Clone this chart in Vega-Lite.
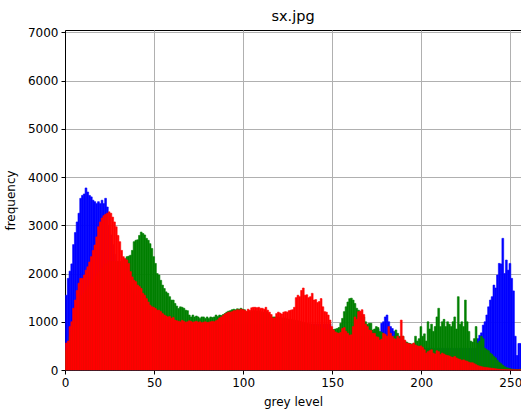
{
"$schema": "https://vega.github.io/schema/vega-lite/v6.json",
"autosize": "none",
"width": 456,
"height": 340,
"padding": {"left": 65, "top": 30, "right": 0, "bottom": 40},
"background": "white",
"title": {"text": "sx.jpg", "font": "DejaVu Sans", "fontSize": 14.5, "fontWeight": "normal", "color": "black", "offset": 2},
"config": {
  "view": {"stroke": "black", "strokeWidth": 1},
  "axis": {"domainColor": "black", "domainWidth": 1, "tickColor": "black", "tickWidth": 1, "tickSize": 4, "labelFont": "DejaVu Sans", "labelFontSize": 12, "labelColor": "black", "labelPadding": 3, "labelFlush": false, "labelOverlap": false, "titleFont": "DejaVu Sans", "titleFontSize": 12, "titleFontWeight": "normal", "titleColor": "black", "grid": true, "gridColor": "#b0b0b0", "gridWidth": 1, "gridOpacity": 1, "zindex": 1}
},
"datasets": {
"blue": [
{"g":0,"n":1550},{"g":1,"n":1900},{"g":2,"n":2050},{"g":3,"n":2200},{"g":4,"n":2600},{"g":5,"n":2850},{"g":6,"n":3070},{"g":7,"n":3250},{"g":8,"n":3560},{"g":9,"n":3620},
{"g":10,"n":3650},{"g":11,"n":3775},{"g":12,"n":3690},{"g":13,"n":3620},{"g":14,"n":3590},{"g":15,"n":3520},{"g":16,"n":3490},{"g":17,"n":3450},{"g":18,"n":3490},{"g":19,"n":3450},
{"g":20,"n":3520},{"g":21,"n":3450},{"g":22,"n":3560},{"g":23,"n":3380},{"g":24,"n":3000},{"g":25,"n":2800},{"g":26,"n":2600},{"g":27,"n":2400},{"g":28,"n":2200},{"g":29,"n":2100},
{"g":30,"n":2000},{"g":31,"n":1950},{"g":32,"n":1900},{"g":33,"n":1850},{"g":34,"n":1800},{"g":35,"n":1750},{"g":36,"n":1700},{"g":37,"n":1650},{"g":38,"n":1600},{"g":39,"n":1550},
{"g":40,"n":1500},{"g":41,"n":1450},{"g":42,"n":1400},{"g":43,"n":1350},{"g":44,"n":1300},{"g":45,"n":1250},{"g":46,"n":1200},{"g":47,"n":1180},{"g":48,"n":1160},{"g":49,"n":1140},
{"g":50,"n":1120},{"g":51,"n":1100},{"g":52,"n":1080},{"g":53,"n":1060},{"g":54,"n":1040},{"g":55,"n":1020},{"g":56,"n":1000},{"g":57,"n":990},{"g":58,"n":980},{"g":59,"n":970},
{"g":60,"n":960},{"g":61,"n":950},{"g":62,"n":950},{"g":63,"n":950},{"g":64,"n":950},{"g":65,"n":950},{"g":66,"n":950},{"g":67,"n":950},{"g":68,"n":950},{"g":69,"n":950},
{"g":70,"n":950},{"g":71,"n":950},{"g":72,"n":950},{"g":73,"n":950},{"g":74,"n":950},{"g":75,"n":950},{"g":76,"n":950},{"g":77,"n":950},{"g":78,"n":950},{"g":79,"n":950},
{"g":80,"n":950},{"g":81,"n":950},{"g":82,"n":950},{"g":83,"n":950},{"g":84,"n":950},{"g":85,"n":950},{"g":86,"n":950},{"g":87,"n":950},{"g":88,"n":950},{"g":89,"n":950},
{"g":90,"n":950},{"g":91,"n":950},{"g":92,"n":950},{"g":93,"n":950},{"g":94,"n":950},{"g":95,"n":950},{"g":96,"n":950},{"g":97,"n":950},{"g":98,"n":950},{"g":99,"n":950},
{"g":100,"n":950},{"g":101,"n":950},{"g":102,"n":950},{"g":103,"n":950},{"g":104,"n":950},{"g":105,"n":950},{"g":106,"n":950},{"g":107,"n":950},{"g":108,"n":950},{"g":109,"n":950},
{"g":110,"n":950},{"g":111,"n":950},{"g":112,"n":950},{"g":113,"n":950},{"g":114,"n":950},{"g":115,"n":950},{"g":116,"n":950},{"g":117,"n":950},{"g":118,"n":950},{"g":119,"n":950},
{"g":120,"n":950},{"g":121,"n":950},{"g":122,"n":950},{"g":123,"n":950},{"g":124,"n":950},{"g":125,"n":950},{"g":126,"n":950},{"g":127,"n":950},{"g":128,"n":950},{"g":129,"n":950},
{"g":130,"n":950},{"g":131,"n":950},{"g":132,"n":950},{"g":133,"n":950},{"g":134,"n":950},{"g":135,"n":950},{"g":136,"n":950},{"g":137,"n":950},{"g":138,"n":950},{"g":139,"n":950},
{"g":140,"n":950},{"g":141,"n":950},{"g":142,"n":950},{"g":143,"n":950},{"g":144,"n":950},{"g":145,"n":950},{"g":146,"n":950},{"g":147,"n":950},{"g":148,"n":950},{"g":149,"n":700},
{"g":150,"n":700},{"g":151,"n":700},{"g":152,"n":700},{"g":153,"n":700},{"g":154,"n":700},{"g":155,"n":700},{"g":156,"n":700},{"g":157,"n":700},{"g":158,"n":700},{"g":159,"n":700},
{"g":160,"n":700},{"g":161,"n":700},{"g":162,"n":700},{"g":163,"n":700},{"g":164,"n":700},{"g":165,"n":700},{"g":166,"n":700},{"g":167,"n":700},{"g":168,"n":700},{"g":169,"n":700},
{"g":170,"n":700},{"g":171,"n":750},{"g":172,"n":780},{"g":173,"n":800},{"g":174,"n":850},{"g":175,"n":850},{"g":176,"n":780},{"g":177,"n":970},{"g":178,"n":1000},{"g":179,"n":1100},
{"g":180,"n":1140},{"g":181,"n":1000},{"g":182,"n":900},{"g":183,"n":860},{"g":184,"n":800},{"g":185,"n":760},{"g":186,"n":700},{"g":187,"n":650},{"g":188,"n":600},{"g":189,"n":580},
{"g":190,"n":550},{"g":191,"n":500},{"g":192,"n":500},{"g":193,"n":500},{"g":194,"n":500},{"g":195,"n":500},{"g":196,"n":500},{"g":197,"n":500},{"g":198,"n":480},{"g":199,"n":450},
{"g":200,"n":450},{"g":201,"n":450},{"g":202,"n":450},{"g":203,"n":450},{"g":204,"n":450},{"g":205,"n":450},{"g":206,"n":450},{"g":207,"n":450},{"g":208,"n":450},{"g":209,"n":450},
{"g":210,"n":450},{"g":211,"n":450},{"g":212,"n":450},{"g":213,"n":450},{"g":214,"n":450},{"g":215,"n":450},{"g":216,"n":450},{"g":217,"n":450},{"g":218,"n":450},{"g":219,"n":450},
{"g":220,"n":450},{"g":221,"n":450},{"g":222,"n":450},{"g":223,"n":450},{"g":224,"n":450},{"g":225,"n":450},{"g":226,"n":450},{"g":227,"n":450},{"g":228,"n":450},{"g":229,"n":450},
{"g":230,"n":450},{"g":231,"n":650},{"g":232,"n":720},{"g":233,"n":770},{"g":234,"n":930},{"g":235,"n":1000},{"g":236,"n":1140},{"g":237,"n":1310},{"g":238,"n":1450},{"g":239,"n":1520},
{"g":240,"n":1760},{"g":241,"n":1700},{"g":242,"n":1970},{"g":243,"n":2210},{"g":244,"n":2200},{"g":245,"n":2730},{"g":246,"n":2000},{"g":247,"n":2280},{"g":248,"n":2070},{"g":249,"n":2210},
{"g":250,"n":1900},{"g":251,"n":1640},{"g":252,"n":700},{"g":253,"n":300},{"g":254,"n":550},{"g":255,"n":550}
],
"green": [
{"g":0,"n":400},{"g":1,"n":450},{"g":2,"n":700},{"g":3,"n":800},{"g":4,"n":1000},{"g":5,"n":1150},{"g":6,"n":1300},{"g":7,"n":1400},{"g":8,"n":1500},{"g":9,"n":1550},
{"g":10,"n":1600},{"g":11,"n":1650},{"g":12,"n":1700},{"g":13,"n":1750},{"g":14,"n":1800},{"g":15,"n":1850},{"g":16,"n":1900},{"g":17,"n":1950},{"g":18,"n":2000},{"g":19,"n":2050},
{"g":20,"n":2100},{"g":21,"n":2150},{"g":22,"n":2200},{"g":23,"n":2200},{"g":24,"n":2250},{"g":25,"n":2250},{"g":26,"n":2250},{"g":27,"n":2250},{"g":28,"n":2250},{"g":29,"n":2250},
{"g":30,"n":2250},{"g":31,"n":2260},{"g":32,"n":2280},{"g":33,"n":2300},{"g":34,"n":2350},{"g":35,"n":2360},{"g":36,"n":2380},{"g":37,"n":2480},{"g":38,"n":2660},{"g":39,"n":2690},
{"g":40,"n":2700},{"g":41,"n":2790},{"g":42,"n":2860},{"g":43,"n":2830},{"g":44,"n":2800},{"g":45,"n":2730},{"g":46,"n":2690},{"g":47,"n":2620},{"g":48,"n":2520},{"g":49,"n":2350},
{"g":50,"n":2210},{"g":51,"n":2000},{"g":52,"n":1970},{"g":53,"n":1860},{"g":54,"n":1760},{"g":55,"n":1690},{"g":56,"n":1620},{"g":57,"n":1590},{"g":58,"n":1520},{"g":59,"n":1450},
{"g":60,"n":1450},{"g":61,"n":1380},{"g":62,"n":1325},{"g":63,"n":1275},{"g":64,"n":1310},{"g":65,"n":1300},{"g":66,"n":1280},{"g":67,"n":1240},{"g":68,"n":1230},{"g":69,"n":1140},
{"g":70,"n":1100},{"g":71,"n":1140},{"g":72,"n":1100},{"g":73,"n":1120},{"g":74,"n":1100},{"g":75,"n":1070},{"g":76,"n":1100},{"g":77,"n":1100},{"g":78,"n":1070},{"g":79,"n":1100},
{"g":80,"n":1070},{"g":81,"n":1100},{"g":82,"n":1090},{"g":83,"n":1100},{"g":84,"n":1140},{"g":85,"n":1110},{"g":86,"n":1140},{"g":87,"n":1130},{"g":88,"n":1150},{"g":89,"n":1170},
{"g":90,"n":1200},{"g":91,"n":1220},{"g":92,"n":1230},{"g":93,"n":1250},{"g":94,"n":1260},{"g":95,"n":1250},{"g":96,"n":1270},{"g":97,"n":1260},{"g":98,"n":1280},{"g":99,"n":1260},
{"g":100,"n":1250},{"g":101,"n":1200},{"g":102,"n":1210},{"g":103,"n":1200},{"g":104,"n":1220},{"g":105,"n":1230},{"g":106,"n":1230},{"g":107,"n":1220},{"g":108,"n":1230},{"g":109,"n":1210},
{"g":110,"n":1200},{"g":111,"n":1200},{"g":112,"n":1210},{"g":113,"n":1180},{"g":114,"n":1150},{"g":115,"n":1100},{"g":116,"n":1100},{"g":117,"n":1100},{"g":118,"n":1100},{"g":119,"n":1100},
{"g":120,"n":1090},{"g":121,"n":1080},{"g":122,"n":1080},{"g":123,"n":1070},{"g":124,"n":1060},{"g":125,"n":1050},{"g":126,"n":1050},{"g":127,"n":1040},{"g":128,"n":1030},{"g":129,"n":1030},
{"g":130,"n":1020},{"g":131,"n":1010},{"g":132,"n":1000},{"g":133,"n":990},{"g":134,"n":980},{"g":135,"n":970},{"g":136,"n":960},{"g":137,"n":950},{"g":138,"n":940},{"g":139,"n":930},
{"g":140,"n":920},{"g":141,"n":910},{"g":142,"n":900},{"g":143,"n":880},{"g":144,"n":860},{"g":145,"n":850},{"g":146,"n":840},{"g":147,"n":830},{"g":148,"n":820},{"g":149,"n":850},
{"g":150,"n":840},{"g":151,"n":850},{"g":152,"n":860},{"g":153,"n":880},{"g":154,"n":970},{"g":155,"n":1070},{"g":156,"n":1210},{"g":157,"n":1310},{"g":158,"n":1410},{"g":159,"n":1480},
{"g":160,"n":1490},{"g":161,"n":1450},{"g":162,"n":1380},{"g":163,"n":1280},{"g":164,"n":1240},{"g":165,"n":1200},{"g":166,"n":1150},{"g":167,"n":1100},{"g":168,"n":1000},{"g":169,"n":950},
{"g":170,"n":970},{"g":171,"n":970},{"g":172,"n":830},{"g":173,"n":850},{"g":174,"n":900},{"g":175,"n":880},{"g":176,"n":800},{"g":177,"n":780},{"g":178,"n":750},{"g":179,"n":720},
{"g":180,"n":700},{"g":181,"n":700},{"g":182,"n":650},{"g":183,"n":680},{"g":184,"n":700},{"g":185,"n":830},{"g":186,"n":760},{"g":187,"n":700},{"g":188,"n":690},{"g":189,"n":700},
{"g":190,"n":600},{"g":191,"n":580},{"g":192,"n":560},{"g":193,"n":550},{"g":194,"n":540},{"g":195,"n":550},{"g":196,"n":700},{"g":197,"n":600},{"g":198,"n":650},{"g":199,"n":900},
{"g":200,"n":700},{"g":201,"n":750},{"g":202,"n":600},{"g":203,"n":1000},{"g":204,"n":850},{"g":205,"n":950},{"g":206,"n":800},{"g":207,"n":900},{"g":208,"n":1100},{"g":209,"n":1280},
{"g":210,"n":900},{"g":211,"n":1000},{"g":212,"n":1050},{"g":213,"n":900},{"g":214,"n":1000},{"g":215,"n":950},{"g":216,"n":900},{"g":217,"n":1000},{"g":218,"n":1100},{"g":219,"n":850},
{"g":220,"n":1520},{"g":221,"n":950},{"g":222,"n":1000},{"g":223,"n":900},{"g":224,"n":1450},{"g":225,"n":1000},{"g":226,"n":800},{"g":227,"n":600},{"g":228,"n":580},{"g":229,"n":650},
{"g":230,"n":900},{"g":231,"n":560},{"g":232,"n":600},{"g":233,"n":700},{"g":234,"n":650},{"g":235,"n":450},{"g":236,"n":420},{"g":237,"n":400},{"g":238,"n":350},{"g":239,"n":320},
{"g":240,"n":280},{"g":241,"n":250},{"g":242,"n":200},{"g":243,"n":160},{"g":244,"n":130},{"g":245,"n":100},{"g":246,"n":70},{"g":247,"n":50},{"g":248,"n":40},{"g":249,"n":30},
{"g":250,"n":20},{"g":251,"n":15},{"g":252,"n":10},{"g":253,"n":8},{"g":254,"n":5},{"g":255,"n":20}
],
"red": [
{"g":0,"n":560},{"g":1,"n":600},{"g":2,"n":900},{"g":3,"n":1000},{"g":4,"n":1280},{"g":5,"n":1450},{"g":6,"n":1650},{"g":7,"n":1800},{"g":8,"n":1900},{"g":9,"n":1900},
{"g":10,"n":1970},{"g":11,"n":2070},{"g":12,"n":2140},{"g":13,"n":2240},{"g":14,"n":2350},{"g":15,"n":2480},{"g":16,"n":2590},{"g":17,"n":2760},{"g":18,"n":2970},{"g":19,"n":3070},
{"g":20,"n":3150},{"g":21,"n":3200},{"g":22,"n":3230},{"g":23,"n":3250},{"g":24,"n":3280},{"g":25,"n":3250},{"g":26,"n":3170},{"g":27,"n":3070},{"g":28,"n":2970},{"g":29,"n":2790},
{"g":30,"n":2660},{"g":31,"n":2480},{"g":32,"n":2350},{"g":33,"n":2310},{"g":34,"n":2280},{"g":35,"n":2210},{"g":36,"n":2040},{"g":37,"n":1930},{"g":38,"n":1860},{"g":39,"n":1830},
{"g":40,"n":1760},{"g":41,"n":1730},{"g":42,"n":1690},{"g":43,"n":1590},{"g":44,"n":1550},{"g":45,"n":1480},{"g":46,"n":1410},{"g":47,"n":1345},{"g":48,"n":1310},{"g":49,"n":1300},
{"g":50,"n":1275},{"g":51,"n":1240},{"g":52,"n":1240},{"g":53,"n":1210},{"g":54,"n":1170},{"g":55,"n":1140},{"g":56,"n":1120},{"g":57,"n":1100},{"g":58,"n":1110},{"g":59,"n":1070},
{"g":60,"n":1090},{"g":61,"n":1035},{"g":62,"n":1020},{"g":63,"n":1010},{"g":64,"n":1000},{"g":65,"n":1030},{"g":66,"n":1010},{"g":67,"n":990},{"g":68,"n":1000},{"g":69,"n":1020},
{"g":70,"n":1005},{"g":71,"n":990},{"g":72,"n":1000},{"g":73,"n":1010},{"g":74,"n":990},{"g":75,"n":1000},{"g":76,"n":980},{"g":77,"n":990},{"g":78,"n":1000},{"g":79,"n":985},
{"g":80,"n":990},{"g":81,"n":1000},{"g":82,"n":1010},{"g":83,"n":1000},{"g":84,"n":1020},{"g":85,"n":1040},{"g":86,"n":1080},{"g":87,"n":1100},{"g":88,"n":1130},{"g":89,"n":1160},
{"g":90,"n":1180},{"g":91,"n":1200},{"g":92,"n":1200},{"g":93,"n":1210},{"g":94,"n":1230},{"g":95,"n":1230},{"g":96,"n":1250},{"g":97,"n":1240},{"g":98,"n":1260},{"g":99,"n":1250},
{"g":100,"n":1240},{"g":101,"n":1220},{"g":102,"n":1260},{"g":103,"n":1240},{"g":104,"n":1290},{"g":105,"n":1300},{"g":106,"n":1300},{"g":107,"n":1290},{"g":108,"n":1300},{"g":109,"n":1280},
{"g":110,"n":1280},{"g":111,"n":1260},{"g":112,"n":1300},{"g":113,"n":1240},{"g":114,"n":1200},{"g":115,"n":1150},{"g":116,"n":1080},{"g":117,"n":1080},{"g":118,"n":1170},{"g":119,"n":1200},
{"g":120,"n":1180},{"g":121,"n":1160},{"g":122,"n":1200},{"g":123,"n":1210},{"g":124,"n":1200},{"g":125,"n":1230},{"g":126,"n":1240},{"g":127,"n":1250},{"g":128,"n":1300},{"g":129,"n":1500},
{"g":130,"n":1550},{"g":131,"n":1520},{"g":132,"n":1650},{"g":133,"n":1700},{"g":134,"n":1550},{"g":135,"n":1560},{"g":136,"n":1500},{"g":137,"n":1520},{"g":138,"n":1590},{"g":139,"n":1450},
{"g":140,"n":1460},{"g":141,"n":1400},{"g":142,"n":1420},{"g":143,"n":1480},{"g":144,"n":1310},{"g":145,"n":1210},{"g":146,"n":1200},{"g":147,"n":1140},{"g":148,"n":1035},{"g":149,"n":900},
{"g":150,"n":830},{"g":151,"n":790},{"g":152,"n":770},{"g":153,"n":760},{"g":154,"n":780},{"g":155,"n":860},{"g":156,"n":880},{"g":157,"n":800},{"g":158,"n":760},{"g":159,"n":720},
{"g":160,"n":730},{"g":161,"n":900},{"g":162,"n":1100},{"g":163,"n":1050},{"g":164,"n":1210},{"g":165,"n":1220},{"g":166,"n":1250},{"g":167,"n":1150},{"g":168,"n":950},{"g":169,"n":900},
{"g":170,"n":830},{"g":171,"n":820},{"g":172,"n":760},{"g":173,"n":760},{"g":174,"n":690},{"g":175,"n":680},{"g":176,"n":620},{"g":177,"n":640},{"g":178,"n":760},{"g":179,"n":740},
{"g":180,"n":700},{"g":181,"n":900},{"g":182,"n":760},{"g":183,"n":700},{"g":184,"n":650},{"g":185,"n":640},{"g":186,"n":700},{"g":187,"n":660},{"g":188,"n":1035},{"g":189,"n":700},
{"g":190,"n":620},{"g":191,"n":560},{"g":192,"n":550},{"g":193,"n":540},{"g":194,"n":530},{"g":195,"n":560},{"g":196,"n":520},{"g":197,"n":500},{"g":198,"n":490},{"g":199,"n":500},
{"g":200,"n":470},{"g":201,"n":420},{"g":202,"n":350},{"g":203,"n":380},{"g":204,"n":400},{"g":205,"n":420},{"g":206,"n":350},{"g":207,"n":330},{"g":208,"n":400},{"g":209,"n":380},
{"g":210,"n":320},{"g":211,"n":350},{"g":212,"n":330},{"g":213,"n":310},{"g":214,"n":300},{"g":215,"n":290},{"g":216,"n":270},{"g":217,"n":260},{"g":218,"n":280},{"g":219,"n":250},
{"g":220,"n":230},{"g":221,"n":220},{"g":222,"n":200},{"g":223,"n":210},{"g":224,"n":190},{"g":225,"n":180},{"g":226,"n":160},{"g":227,"n":150},{"g":228,"n":150},{"g":229,"n":130},
{"g":230,"n":110},{"g":231,"n":90},{"g":232,"n":80},{"g":233,"n":70},{"g":234,"n":60},{"g":235,"n":55},{"g":236,"n":50},{"g":237,"n":45},{"g":238,"n":40},{"g":239,"n":35},
{"g":240,"n":30},{"g":241,"n":25},{"g":242,"n":20},{"g":243,"n":15},{"g":244,"n":12},{"g":245,"n":10},{"g":246,"n":8},{"g":247,"n":6},{"g":248,"n":5},{"g":249,"n":4},
{"g":250,"n":3},{"g":251,"n":3},{"g":252,"n":2},{"g":253,"n":2},{"g":254,"n":2},{"g":255,"n":5}
]
},
"encoding": {
  "x": {"field": "g0", "type": "quantitative", "bin": "binned", "scale": {"domain": [0, 256], "nice": false, "zero": false}, "axis": {"values": [0, 50, 100, 150, 200, 250], "title": "grey level", "titlePadding": 8, "format": "d", "grid": true, "labelAlign": "center", "labelFlush": false}},
  "x2": {"field": "g1"},
  "y": {"field": "n", "type": "quantitative", "scale": {"domain": [0, 7050], "nice": false}, "axis": {"values": [0, 1000, 2000, 3000, 4000, 5000, 6000, 7000], "title": "frequency", "titlePadding": 10, "format": "d", "grid": true, "labelFlush": false}}
},
"layer": [
  {"data": {"name": "blue"}, "transform": [{"bin": {"step": 1, "extent": [0, 256]}, "field": "g", "as": ["g0", "g1"]}], "mark": {"type": "bar", "color": "#0000ff", "stroke": "#0000ff", "strokeWidth": 0.6, "binSpacing": 0}},
  {"data": {"name": "green"}, "transform": [{"bin": {"step": 1, "extent": [0, 256]}, "field": "g", "as": ["g0", "g1"]}], "mark": {"type": "bar", "color": "#008000", "stroke": "#008000", "strokeWidth": 0.6, "binSpacing": 0}},
  {"data": {"name": "red"}, "transform": [{"bin": {"step": 1, "extent": [0, 256]}, "field": "g", "as": ["g0", "g1"]}], "mark": {"type": "bar", "color": "#ff0000", "stroke": "#ff0000", "strokeWidth": 0.6, "binSpacing": 0}}
]
}
